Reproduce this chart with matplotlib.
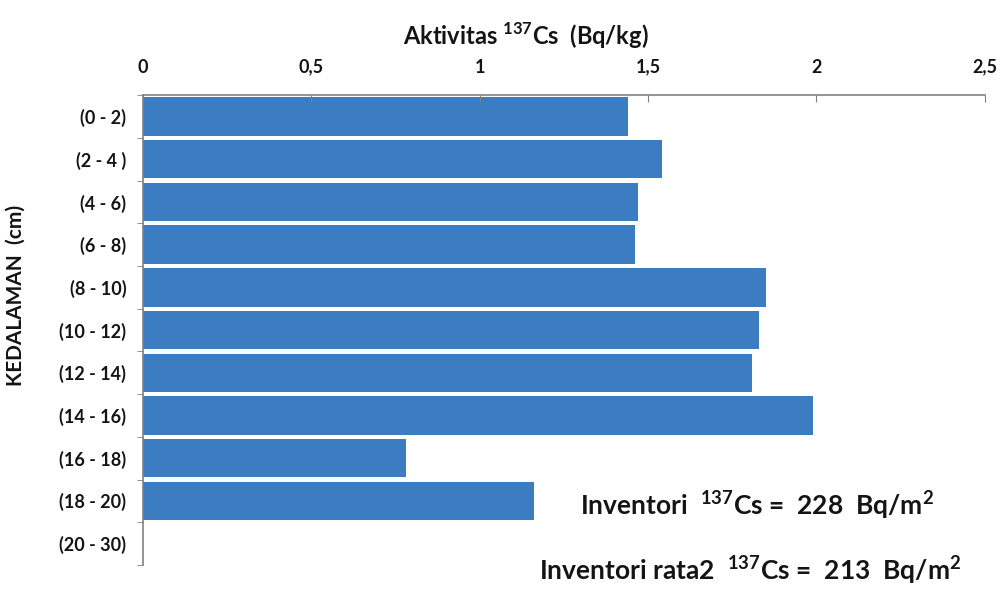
import numpy as np
import matplotlib
matplotlib.use("Agg")
import matplotlib.pyplot as plt

# Data.
depths = ["(0 - 2)", "(2 - 4 )", "(4 - 6)", "(6 - 8)", "(8 - 10)", "(10 - 12)",
          "(12 - 14)", "(14 - 16)", "(16 - 18)", "(18 - 20)", "(20 - 30)"]
activity = [1.44, 1.54, 1.47, 1.46, 1.85, 1.83, 1.81, 1.99, 0.78, 1.16, 0.0]
xticks = [0, 0.5, 1, 1.5, 2, 2.5]
xtick_labels = ["0", "0,5", "1", "1,5", "2", "2,5"]

font = "Lato"
plt.rcParams["font.family"] = [font, "DejaVu Sans"]
plt.rcParams["font.weight"] = "bold"
plt.rcParams["mathtext.fontset"] = "custom"
plt.rcParams["mathtext.rm"] = f"{font}:bold"
plt.rcParams["mathtext.bf"] = f"{font}:bold"

ink = "#141414"

fig = plt.figure(figsize=(10.07, 5.91), dpi=100)
ax = fig.add_axes([0.142, 0.044, 0.836, 0.795])

y = np.arange(len(depths))
ax.barh(y, activity, height=0.9, color="#3B7DC0")

ax.set_xlim(0, 2.5)
ax.set_ylim(len(depths) - 0.5, -0.5)
ax.xaxis.tick_top()
ax.set_xticks(xticks)
ax.set_xticklabels(xtick_labels, fontsize=13, fontweight="bold", color=ink)
ax.tick_params(axis="x", direction="in", length=5, color="#808080", pad=14)

ax.set_yticks(y)
ax.set_yticklabels(depths, fontsize=13, fontweight="bold", color=ink)
ax.set_yticks(np.arange(len(depths) + 1) - 0.5, minor=True)
ax.tick_params(axis="y", which="major", length=0, pad=12)
ax.tick_params(axis="y", which="minor", length=4, color="#808080")

for side in ["right", "bottom"]:
    ax.spines[side].set_visible(False)
for side in ["left", "top"]:
    ax.spines[side].set_color("#808080")
    ax.spines[side].set_linewidth(1.2)

fig.text(0.522, 0.94, r"Aktivitas $^{137}$Cs  (Bq/kg)", ha="center", va="center",
         fontsize=17, fontweight="bold", color=ink)
fig.text(0.016, 0.5, "KEDALAMAN  (cm)", rotation=90, ha="center", va="center",
         fontsize=15, fontweight="bold", color=ink)

fig.text(0.752, 0.145, r"Inventori  $^{137}$Cs =  228  Bq/m$^2$", ha="center", va="center",
         fontsize=19, fontweight="bold", color=ink)
fig.text(0.745, 0.035, r"Inventori rata2  $^{137}$Cs =  213  Bq/m$^2$", ha="center", va="center",
         fontsize=19, fontweight="bold", color=ink)

fig.savefig("out.png", dpi=100)
